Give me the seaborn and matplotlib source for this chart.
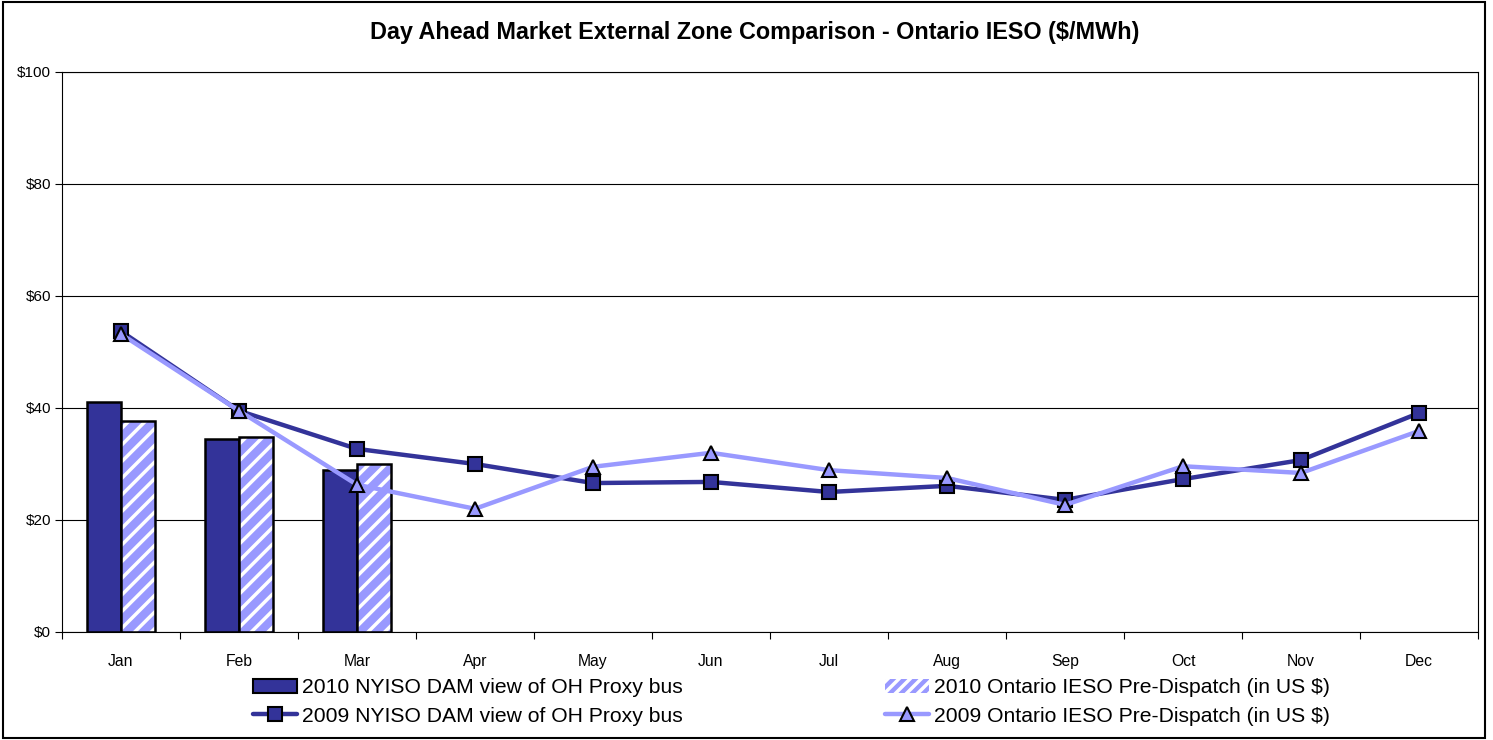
import numpy as np
import pandas as pd
import matplotlib
matplotlib.use("Agg")
import matplotlib.pyplot as plt
import seaborn as sns
from matplotlib.patches import Patch, Rectangle
from matplotlib.lines import Line2D
from matplotlib.ticker import FixedLocator, FuncFormatter

# ---------------- data ----------------
months = ["Jan", "Feb", "Mar", "Apr", "May", "Jun", "Jul", "Aug", "Sep", "Oct", "Nov", "Dec"]
bar_months = ["Jan", "Feb", "Mar"]
nyiso_2010 = [41.1, 34.5, 28.9]
ieso_2010 = [37.7, 34.8, 30.0]
nyiso_2009 = [53.7, 39.5, 32.7, 30.0, 26.6, 26.8, 25.0, 26.1, 23.6, 27.3, 30.7, 39.1]
ieso_2009 = [53.2, 39.5, 26.3, 22.0, 29.5, 32.0, 28.9, 27.5, 22.7, 29.6, 28.4, 35.9]
y_ticks = [0, 20, 40, 60, 80, 100]

lab_b1 = "2010 NYISO DAM view of OH Proxy bus"
lab_b2 = "2010 Ontario IESO Pre-Dispatch (in US $)"
lab_l1 = "2009 NYISO DAM view of OH Proxy bus"
lab_l2 = "2009 Ontario IESO Pre-Dispatch (in US $)"
title = "Day Ahead Market External Zone Comparison - Ontario IESO ($/MWh)"

dark = "#333399"
light = "#9999FF"

# ---------------- style ----------------
sns.set_theme(style="white")
plt.rcParams["font.family"] = ["Liberation Sans", "DejaVu Sans"]
plt.rcParams["hatch.linewidth"] = 2.5
for k in ["text.color", "xtick.color", "ytick.color", "axes.labelcolor"]:
    plt.rcParams[k] = "black"

fig = plt.figure(figsize=(14.93, 7.40), dpi=100)
ax = fig.add_axes([62 / 1493, 1 - 632 / 740, (1478 - 62) / 1493, (632 - 72) / 740])

bars = pd.DataFrame({
    "month": bar_months * 2,
    "value": nyiso_2010 + ieso_2010,
    "series": [lab_b1] * len(bar_months) + [lab_b2] * len(bar_months),
})
sns.barplot(data=bars, x="month", y="value", hue="series", order=months,
            hue_order=[lab_b1, lab_b2], palette=[dark, light], width=0.58,
            errorbar=None, saturation=1, edgecolor="black", linewidth=1.8,
            legend=False, ax=ax)

# hatched second series: white stripes on light blue, black outline on top
for p in ax.containers[1]:
    p.set_hatch("//")
    p.set_edgecolor("white")
    p.set_linewidth(0)
    ax.add_patch(Rectangle(p.get_xy(), p.get_width(), p.get_height(), fill=False,
                           edgecolor="black", linewidth=1.8, zorder=p.get_zorder() + 0.1))

lines = pd.DataFrame({"pos": np.arange(len(months)), "nyiso": nyiso_2009, "ieso": ieso_2009})
sns.lineplot(data=lines, x="pos", y="nyiso", color=dark, linewidth=3.2, marker="s",
             markersize=10, markeredgecolor="black", markeredgewidth=1.5,
             markerfacecolor=dark, ax=ax, zorder=4)
sns.lineplot(data=lines, x="pos", y="ieso", color=light, linewidth=3.2, marker="^",
             markersize=10, markeredgecolor="black", markeredgewidth=1.5,
             markerfacecolor=light, ax=ax, zorder=5)

# ---------------- axes ----------------
ax.set_xlim(-0.5, len(months) - 0.5)
ax.set_ylim(0, 100)
ax.set_xlabel("")
ax.set_ylabel("")
ax.yaxis.set_major_locator(FixedLocator(y_ticks))
ax.yaxis.set_major_formatter(FuncFormatter(lambda v, _: f"${v:.0f}"))
ax.set_xticks(np.arange(len(months)))
ax.set_xticklabels(months)
ax.xaxis.set_minor_locator(FixedLocator(np.arange(len(months) + 1) - 0.5))
ax.tick_params(axis="x", which="major", length=0, pad=15.5, labelsize=11.3, colors="black")
ax.tick_params(axis="x", which="minor", length=5, width=0.8, color="black", bottom=True)
ax.tick_params(axis="y", which="major", length=5, width=0.8, color="black", left=True,
               labelsize=11, pad=3, labelcolor="black")
ax.grid(axis="y", color="black", linewidth=0.8)
ax.grid(axis="x", visible=False)
ax.set_axisbelow(True)
for s in ax.spines.values():
    s.set_visible(True)
    s.set_color("black")
    s.set_linewidth(0.8)

fig.text(755 / 1493, 1 - 33 / 740, title, ha="center", va="center", fontsize=16.8,
         weight="bold", color="black")

# ---------------- legend ----------------
h_b1 = Patch(facecolor=dark, edgecolor="black", linewidth=1.5)
h_b2 = Patch(facecolor=light, edgecolor="white", hatch="///", linewidth=0)
h_l1 = Line2D([], [], color=dark, linewidth=3.2, marker="s", markersize=10,
              markeredgecolor="black", markerfacecolor=dark, markeredgewidth=1.5)
h_l2 = Line2D([], [], color=light, linewidth=3.2, marker="^", markersize=10,
              markeredgecolor="black", markerfacecolor=light, markeredgewidth=1.5)
fig.legend(handles=[h_b1, h_l1, h_b2, h_l2], labels=[lab_b1, lab_l1, lab_b2, lab_l2],
           ncol=2, loc="upper left", bbox_to_anchor=(253 / 1493, 1 - 678 / 740),
           frameon=False, fontsize=15.2, handlelength=2.1, handleheight=0.65,
           handletextpad=0.2, labelspacing=0.45, columnspacing=9.6, borderpad=0,
           borderaxespad=0, labelcolor="black")

fig.patches.append(Rectangle((3 / 1493, 2 / 740), 1482 / 1493, 736 / 740,
                             transform=fig.transFigure, fill=False,
                             edgecolor="black", linewidth=1.5))

fig.savefig("out.png", dpi=100)
